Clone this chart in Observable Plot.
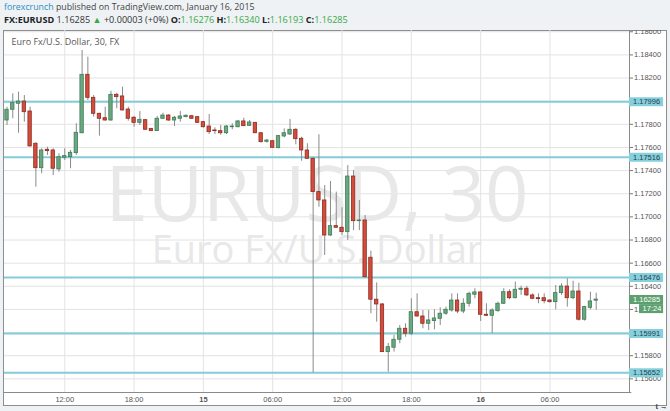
<!DOCTYPE html>
<html><head><meta charset="utf-8">
<script src="https://cdn.jsdelivr.net/npm/d3@7"></script>
<script src="https://cdn.jsdelivr.net/npm/@observablehq/plot@0.6"></script>
<style>
html,body{margin:0;padding:0;background:#eef2f5;width:670px;height:411px;overflow:hidden;font-family:"Open Sans",sans-serif;}
#h1{position:absolute;left:4px;top:0px;font-size:8.8px;color:#444;white-space:nowrap;line-height:14px;}
#h1 .fc{color:#2f8dc4;}
#h2{position:absolute;left:4px;top:13px;font-size:9.1px;color:#333;white-space:nowrap;line-height:14px;}
#h2 b{font-weight:700;color:#222;}
#h2 .g{color:#3aa845;}
#box{position:absolute;left:3px;top:30px;width:662px;height:374px;border:1px solid #8e8e8e;background:#fff;}
#chart{position:absolute;left:0;top:30px;}
</style></head>
<body>
<div id="h1"></div>
<div id="h2"></div>
<div id="box"></div>
<div id="chart"></div>
<script>
// ---- data ----
const publisher = "forexcrunch";
const published = "published on TradingView.com, January 16, 2015";
const symbol = "FX:EURUSD";
const change = "+0.00003 (+0%)";
const chartTitle = "Euro Fx/U.S. Dollar, 30, FX";
const watermark1 = "EURUSD, 30";
const watermark2 = "Euro Fx/U.S. Dollar";
const countdown = "17:24";
const firstBar = "2015-01-14T07:00:00Z"; // 30-minute bars
const open = [1.17833,1.17926,1.17978,1.17997,1.17911,1.17632,1.17421,1.17580,1.17574,1.17410,
1.17511,1.17516,1.17551,1.17723,1.18228,1.18029,1.17891,1.17853,1.17833,1.18055,
1.18041,1.17928,1.17857,1.17813,1.17836,1.17761,1.17741,1.17848,1.17876,1.17833,
1.17848,1.17862,1.17870,1.17862,1.17819,1.17781,1.17747,1.17741,1.17723,1.17775,
1.17775,1.17825,1.17787,1.17813,1.17723,1.17649,1.17654,1.17594,1.17695,1.17712,
1.17753,1.17675,1.17574,1.17502,1.17214,1.17142,1.16839,1.16920,1.16906,1.16868,
1.17349,1.16963,1.16969,1.16647,1.16284,1.16243,1.15831,1.15869,1.15938,1.16033,
1.15990,1.16176,1.16139,1.16076,1.16099,1.16119,1.16163,1.16191,1.16277,1.16182,
1.16249,1.16327,1.16347,1.16154,1.16145,1.16185,1.16249,1.16349,1.16297,1.16370,
1.16379,1.16321,1.16297,1.16297,1.16277,1.16263,1.16341,1.16398,1.16297,1.16355,
1.16111,1.16214,1.16276];
const high = [1.17948,1.18064,1.18078,1.18049,1.17948,1.17640,1.17589,1.17602,1.17589,1.17545,
1.17589,1.17574,1.17805,1.18438,1.18380,1.18049,1.17896,1.17948,1.18086,1.18069,
1.18121,1.17948,1.17868,1.17911,1.17839,1.17764,1.17868,1.17896,1.17885,1.17868,
1.17911,1.17882,1.17876,1.17868,1.17825,1.17885,1.17770,1.17790,1.17790,1.17805,
1.17833,1.17853,1.17833,1.17816,1.17729,1.17669,1.17660,1.17704,1.17761,1.17842,
1.17761,1.17689,1.17632,1.17513,1.17710,1.17271,1.17306,1.17214,1.17079,1.17444,
1.17401,1.17142,1.17012,1.16704,1.16430,1.16251,1.15906,1.15975,1.16061,1.16076,
1.16292,1.16335,1.16191,1.16191,1.16197,1.16214,1.16220,1.16335,1.16335,1.16292,
1.16349,1.16379,1.16350,1.16249,1.16206,1.16263,1.16379,1.16370,1.16436,1.16401,
1.16399,1.16335,1.16335,1.16335,1.16284,1.16407,1.16422,1.16465,1.16444,1.16427,
1.16226,1.16349,1.16340];
const low = [1.17790,1.17848,1.17723,1.17819,1.17602,1.17257,1.17373,1.17531,1.17358,1.17386,
1.17487,1.17416,1.17531,1.17718,1.18006,1.17862,1.17698,1.17827,1.17827,1.17934,
1.17915,1.17827,1.17775,1.17790,1.17747,1.17738,1.17738,1.17842,1.17825,1.17781,
1.17819,1.17857,1.17842,1.17807,1.17767,1.17712,1.17712,1.17706,1.17712,1.17753,
1.17770,1.17781,1.17781,1.17721,1.17637,1.17637,1.17591,1.17589,1.17684,1.17704,
1.17623,1.17481,1.17496,1.15653,1.17084,1.16666,1.16831,1.16900,1.16839,1.16796,
1.16881,1.16881,1.16470,1.16163,1.16090,1.15828,1.15658,1.15831,1.15903,1.15960,
1.15975,1.16133,1.16033,1.16018,1.16024,1.16061,1.16148,1.16176,1.16163,1.16163,
1.16220,1.16292,1.16096,1.16142,1.15990,1.16176,1.16243,1.16284,1.16292,1.16321,
1.16312,1.16284,1.16249,1.16249,1.16254,1.16197,1.16321,1.16220,1.16284,1.16099,
1.16099,1.16197,1.16193];
const close = [1.17926,1.17983,1.17997,1.17905,1.17609,1.17421,1.17574,1.17568,1.17416,1.17516,
1.17525,1.17554,1.17727,1.18228,1.18029,1.17891,1.17848,1.17833,1.18055,1.18035,
1.17920,1.17848,1.17813,1.17839,1.17753,1.17741,1.17848,1.17876,1.17833,1.17857,
1.17868,1.17874,1.17848,1.17813,1.17775,1.17732,1.17741,1.17723,1.17781,1.17781,
1.17825,1.17784,1.17816,1.17723,1.17646,1.17660,1.17597,1.17698,1.17723,1.17753,
1.17672,1.17574,1.17502,1.17214,1.17142,1.16839,1.16920,1.16906,1.16868,1.17349,
1.16963,1.16969,1.16479,1.16284,1.16243,1.15831,1.15874,1.15938,1.16033,1.15990,
1.16176,1.16139,1.16076,1.16105,1.16122,1.16163,1.16197,1.16277,1.16182,1.16249,
1.16335,1.16347,1.16154,1.16145,1.16191,1.16249,1.16349,1.16297,1.16370,1.16379,
1.16321,1.16292,1.16289,1.16271,1.16263,1.16341,1.16398,1.16297,1.16355,1.16111,
1.16220,1.16269,1.16285];
const levels = [1.17996, 1.17516, 1.16476, 1.15991, 1.15652];
const xTicks = ["2015-01-14T12:00Z","2015-01-14T18:00Z","2015-01-15T00:00Z","2015-01-15T06:00Z",
                "2015-01-15T12:00Z","2015-01-15T18:00Z","2015-01-16T00:00Z","2015-01-16T06:00Z"];
const xTickLabels = ["12:00","18:00","15","06:00","12:00","18:00","16","06:00"];
const yTicks = [1.156,1.158,1.160,1.162,1.164,1.166,1.168,1.170,1.172,1.174,1.176,1.178,1.180,1.182,1.184,1.186];
const xDomain = ["2015-01-14T06:47Z","2015-01-16T12:53Z"];
const yDomain = [1.15482, 1.18611];

// ---- header ----
const n = close.length - 1;
const f5 = v => v.toFixed(5);
document.getElementById("h1").innerHTML = `<span class="fc">${publisher}</span> ${published}`;
document.getElementById("h2").innerHTML =
  `<b>${symbol}</b> ${f5(close[n])} <span class="g">▲</span> ${change} ` +
  `<b>O:</b><span class="g">${f5(open[n])}</span> <b>H:</b><span class="g">${f5(high[n])}</span> ` +
  `<b>L:</b><span class="g">${f5(low[n])}</span> <b>C:</b><span class="g">${f5(close[n])}</span>`;

// ---- chart ----
const t0 = +new Date(firstBar);
const bars = open.map((o, i) => ({t: new Date(t0 + i * 1800e3), o, h: high[i], l: low[i], c: close[i]}));
const xs = xTicks.map(d => new Date(d));
const labelOf = new Map(xs.map((d, i) => [+d, xTickLabels[i]]));
const hourTicks = xs.filter((d, i) => xTickLabels[i].includes(":"));
const dayTicks = xs.filter((d, i) => !xTickLabels[i].includes(":"));
const xMin = new Date(xDomain[0]), xMax = new Date(xDomain[1]);
const H = 3600e3;
const boxEnd = new Date(+xMax + 2.95 * H);
const cdStart = new Date(+xMax + 0.87 * H);
const upFill = "#6aa882", upStroke = "#3e7b55", dnFill = "#d44c3b", dnStroke = "#8e2b20";
const lastPrice = close[n];

const chart = Plot.plot({
  width: 670, height: 381,
  marginLeft: 4, marginRight: 41, marginTop: 0, marginBottom: 19,
  style: {fontFamily: "'Liberation Sans', Arial, sans-serif", fontSize: "7.5px", color: "#555", background: "transparent"},
  x: {type: "utc", domain: [xMin, xMax], axis: null},
  y: {domain: yDomain, axis: null},
  marks: [
    Plot.gridX(xs, {stroke: "#e3e3e3", strokeOpacity: 1}),
    Plot.gridY(yTicks, {stroke: "#e3e3e3", strokeOpacity: 1}),
    Plot.text([watermark1], {frameAnchor: "top", textAnchor: "middle", lineAnchor: "bottom", dy: 190,
      fontSize: 76, fontFamily: "Open Sans", fill: "#e8e8e8"}),
    Plot.text([watermark2], {frameAnchor: "top", textAnchor: "middle", lineAnchor: "bottom", dy: 232,
      fontSize: 38, fontFamily: "Open Sans", fill: "#e8e8e8"}),
    Plot.text([chartTitle], {frameAnchor: "top-left", textAnchor: "start", lineAnchor: "top", dx: 7, dy: 8,
      fontSize: 9, fontFamily: "Open Sans", fill: "#555"}),
    Plot.ruleY(levels, {stroke: "#84ccd9", strokeWidth: 2}),
    Plot.ruleX(bars, {x: "t", y1: "l", y2: "h", stroke: "#8a8a8a", strokeWidth: 1}),
    Plot.rect(bars, {
      x1: d => new Date(+d.t - 900e3), x2: d => new Date(+d.t + 900e3),
      y1: "o", y2: "c", insetLeft: 1.2, insetRight: 1.2,
      fill: d => d.c >= d.o ? upFill : dnFill,
      stroke: d => d.c >= d.o ? upStroke : dnStroke, strokeWidth: 0.8
    }),
    Plot.ruleY([yDomain[0]], {x1: () => xMin, x2: () => new Date(+xMax + 0.2 * H), stroke: "#8a8a8a"}),
    Plot.ruleX([xMax], {stroke: "#8a8a8a"}),
    Plot.axisY(yTicks, {anchor: "right", tickSize: 3, tickPadding: 1.5, tickFormat: d => d.toFixed(5),
      fontSize: 7.5, stroke: "#777"}),
    Plot.axisX(hourTicks, {anchor: "bottom", tickSize: 0, tickPadding: 4, tickFormat: d => labelOf.get(+d), fontSize: 7.5}),
    Plot.axisX(dayTicks, {anchor: "bottom", tickSize: 0, tickPadding: 4, tickFormat: d => labelOf.get(+d), fontSize: 7.5, fontWeight: "bold"}),
    Plot.ruleY(levels, {x1: () => xMax, x2: () => boxEnd, stroke: "#86cfdc", strokeWidth: 9}),
    Plot.text(levels, {x: () => xMax, y: d => d, text: d => d.toFixed(5), textAnchor: "start", dx: 3.5,
      fill: "#23424c", fontSize: 7.5}),
    Plot.ruleY([lastPrice], {x1: () => xMax, x2: () => boxEnd, stroke: "#5e9f70", strokeWidth: 9}),
    Plot.text([lastPrice], {x: () => xMax, y: d => d, text: d => d.toFixed(5), textAnchor: "start", dx: 3.5,
      fill: "#ffffff", fontSize: 7.5}),
    Plot.ruleY([lastPrice], {x1: () => cdStart, x2: () => boxEnd, dy: 9, stroke: "#5e9f70", strokeWidth: 9}),
    Plot.text([lastPrice], {x: () => cdStart, y: d => d, dy: 9, text: () => countdown, textAnchor: "start", dx: 3,
      fill: "#ffffff", fontSize: 7.5})
  ]
});
document.getElementById("chart").appendChild(chart);
</script>
</body></html>
